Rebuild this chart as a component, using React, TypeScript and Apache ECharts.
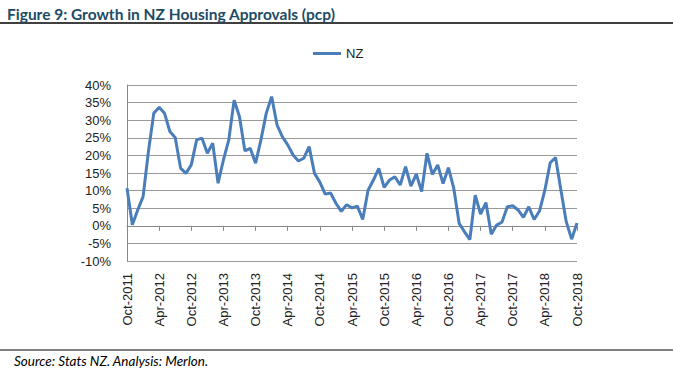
import React, { useEffect, useRef } from "react";
import * as echarts from "echarts";

const MONTHS = ["Jan", "Feb", "Mar", "Apr", "May", "Jun", "Jul", "Aug", "Sep", "Oct", "Nov", "Dec"];

// Monthly categories Oct-2011 .. Oct-2018
const categories: string[] = [];
for (let k = 0; k < 85; k++) {
  const m = (9 + k) % 12;
  const y = 2011 + Math.floor((9 + k) / 12);
  categories.push(`${MONTHS[m]}-${y}`);
}

// NZ housing approvals growth, % pcp
const nzValues = [
  10.7, 0.3, 4.5, 8.3, 21.1, 32.0, 33.7, 32.0, 26.8, 25.1,
  16.4, 14.9, 17.3, 24.4, 24.9, 20.6, 23.5, 12.1, 18.7, 24.4,
  35.7, 31.0, 21.3, 22.0, 17.8, 24.4, 32.0, 36.7, 28.7, 25.3,
  23.0, 20.1, 18.4, 19.2, 22.5, 14.9, 12.4, 9.0, 9.3, 6.4,
  4.1, 6.0, 5.1, 5.6, 1.8, 10.1, 13.0, 16.3, 10.9, 13.0,
  13.9, 11.6, 16.8, 11.3, 14.7, 9.7, 20.6, 14.6, 17.3, 12.0,
  16.5, 10.6, 0.7, -1.7, -3.9, 8.7, 3.3, 6.6, -2.4, 0.2,
  1.1, 5.4, 5.7, 4.5, 2.4, 5.4, 1.8, 4.2, 10.1, 17.9,
  19.4, 10.1, 1.1, -3.8, 0.8,
];

const yTicks = { min: -10, max: 40, interval: 5 };

const TITLE = "Figure 9: Growth in NZ Housing Approvals (pcp)";
const SOURCE = "Source: Stats NZ. Analysis: Merlon.";

export default function App() {
  const ref = useRef<HTMLDivElement>(null);
  useEffect(() => {
    if (!ref.current) return;
    const chart = echarts.init(ref.current, null, { renderer: "svg" });
    const axisFont = { fontFamily: "Liberation Sans", fontSize: 13, color: "#222" };
    chart.setOption({
      animation: false,
      backgroundColor: "#fff",
      title: {
        text: TITLE,
        left: 2,
        top: 1,
        textStyle: { fontFamily: "Lato", fontWeight: "bold", fontSize: 15.5, color: "#1d4b66" },
      },
      legend: {
        data: ["NZ"],
        left: 308,
        top: 42,
        icon: "rect",
        itemWidth: 28,
        itemHeight: 3,
        itemGap: 6,
        textStyle: { fontFamily: "Liberation Sans", fontSize: 13, color: "#222" },
      },
      graphic: [
        { type: "line", shape: { x1: 0, y1: 23, x2: 673, y2: 23 }, style: { stroke: "#000", lineWidth: 1.5 } },
        { type: "line", shape: { x1: 0, y1: 350, x2: 673, y2: 350 }, style: { stroke: "#000", lineWidth: 1.2 } },
        {
          type: "text",
          left: 14,
          top: 354,
          style: { text: SOURCE, fontFamily: "Lato", fontStyle: "italic", fontSize: 13.5, fill: "#000" },
        },
      ],
      grid: { left: 127, right: 96, top: 85, bottom: 111, containLabel: false, outerBoundsMode: "none" },
      xAxis: [
        {
          type: "category",
          data: categories,
          boundaryGap: false,
          axisLine: { onZero: true, lineStyle: { color: "#888", width: 1 } },
          axisTick: { show: true, interval: 5, length: 5, lineStyle: { color: "#888" } },
          axisLabel: { show: false },
          splitLine: { show: false },
        },
        {
          type: "category",
          data: categories,
          boundaryGap: false,
          position: "bottom",
          axisLine: { show: false, onZero: false },
          axisTick: { show: false },
          axisLabel: { ...axisFont, interval: 5, rotate: 90, margin: 12 },
          splitLine: { show: false },
        },
      ],
      yAxis: {
        type: "value",
        min: yTicks.min,
        max: yTicks.max,
        interval: yTicks.interval,
        axisLine: { show: true, lineStyle: { color: "#888" } },
        axisTick: { show: false },
        axisLabel: { ...axisFont, margin: 16, formatter: (v: number) => `${v}%` },
        splitLine: { lineStyle: { color: "#999", width: 1 } },
      },
      series: [
        {
          name: "NZ",
          type: "line",
          data: nzValues,
          xAxisIndex: 0,
          showSymbol: false,
          symbol: "none",
          lineStyle: { color: "#4a7ebb", width: 3 },
          itemStyle: { color: "#4a7ebb" },
        },
      ],
    });
    return () => chart.dispose();
  }, []);
  return (
    <div
      ref={ref}
      style={{ position: "fixed", left: 0, top: 0, width: 673, height: 372, background: "#fff" }}
    />
  );
}
